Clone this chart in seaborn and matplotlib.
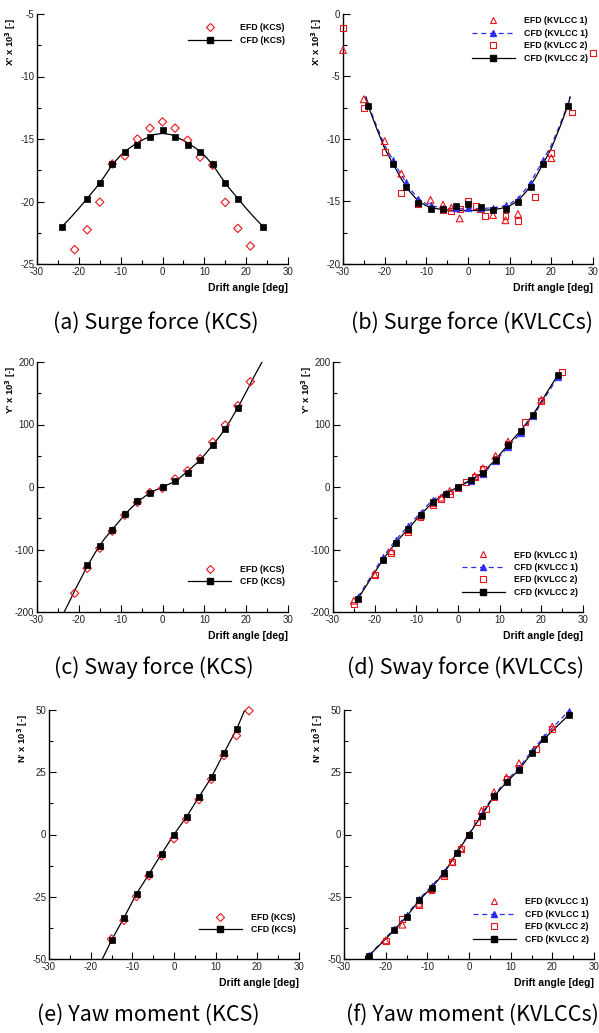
import matplotlib
matplotlib.use("Agg")
import matplotlib.pyplot as plt
import seaborn as sns
from matplotlib.lines import Line2D
from matplotlib.ticker import MultipleLocator

# (a) surge force KCS
a_efd_x = [-21, -18, -15, -12, -9, -6, -3, 0, 3, 6, 9, 12, 15, 18, 21]
a_efd_y = [-23.85, -22.26, -20.05, -17.0, -16.35, -15.0, -14.13, -13.63, -14.13, -15.1, -16.45, -17.1, -20.07, -22.15, -23.56]
a_cfd_x = [-24, -18, -15, -12, -9, -6, -3, 0, 3, 6, 9, 12, 15, 18, 24]
a_cfd_y = [-22.0, -19.78, -18.55, -16.98, -16.03, -15.47, -14.8, -14.27, -14.8, -15.47, -16.03, -16.98, -18.55, -19.78, -22.0]
a_fit_x = [-24, -22, -20, -18, -16, -14, -12, -10, -8, -6, -4, -2, 0, 2, 4, 6, 8, 10, 12, 14, 16, 18, 20, 22, 24]
a_fit_y = [-22.0, -21.3, -20.55, -19.75, -18.95, -18.05, -17.05, -16.3, -15.75, -15.3, -14.95, -14.65, -14.55,
           -14.65, -14.95, -15.3, -15.75, -16.3, -17.05, -18.05, -18.95, -19.75, -20.55, -21.3, -22.0]

# (b) surge force KVLCCs
b_efd1_x = [-30, -25, -20, -16, -9, -6, -4, -2, 3, 6, 9, 12, 20]
b_efd1_y = [-2.88, -6.82, -10.17, -12.78, -14.86, -15.26, -15.5, -16.35, -15.6, -16.08, -16.5, -16.0, -11.53]
b_efd2_x = [-30, -25, -20, -16, -12, -6, -4, -2, 0, 2, 4, 9, 12, 16, 20, 25, 30]
b_efd2_y = [-1.15, -7.53, -11.05, -14.32, -15.2, -15.7, -15.75, -15.6, -14.95, -15.33, -16.13, -16.19, -16.59,
            -14.64, -11.13, -7.88, -3.09]
b_cfd_x = [-24, -18, -15, -12, -9, -6, -3, 0, 3, 6, 9, 12, 15, 18, 24]
b_cfd1_y = [-7.25, -11.66, -13.47, -14.8, -15.3, -15.5, -15.55, -15.5, -15.55, -15.5, -15.3, -14.8, -13.5, -11.7, -7.25]
b_cfd2_y = [-7.4, -11.98, -13.87, -15.1, -15.6, -15.6, -15.39, -15.23, -15.44, -15.65, -15.6, -15.07, -13.85, -11.98, -7.4]
b_fit_x = [-24.5, -24, -22, -20, -18, -16, -14, -12, -10, -8, -6, -4, -2, 0, 2, 4, 6, 8, 10, 12, 14, 16, 18, 20, 22, 24, 24.5]
b_fit1_y = [-6.6, -7.2, -8.9, -10.5, -11.7, -12.9, -13.95, -14.75, -15.2, -15.4, -15.5, -15.55, -15.58, -15.58,
            -15.58, -15.55, -15.5, -15.4, -15.2, -14.75, -13.95, -12.9, -11.7, -10.5, -8.9, -7.2, -6.6]
b_fit2_y = [-6.65, -7.3, -9.1, -10.75, -12.0, -13.2, -14.2, -14.95, -15.35, -15.55, -15.65, -15.7, -15.72, -15.72,
            -15.72, -15.7, -15.65, -15.55, -15.35, -14.95, -14.2, -13.2, -12.0, -10.75, -9.1, -7.3, -6.65]

# (c) sway force KCS
c_efd_x = [-21, -18, -15, -12, -9, -6, -3, 0, 3, 6, 9, 12, 15, 18, 21]
c_efd_y = [-170, -130, -98, -70.6, -45, -24.6, -9, -2, 12.8, 26, 45, 71.7, 99, 130, 168.4]
c_cfd_x = [-18, -15, -12, -9, -6, -3, 0, 3, 6, 9, 12, 15, 18]
c_cfd_y = [-124.6, -94, -69, -43.3, -22.5, -9, 0, 10, 23, 43.9, 67.4, 93, 125.7]
c_fit_x = [-23.5, -22, -21, -20, -18, -16, -14, -12, -10, -8, -6, -4, -2, 0, 2, 4, 6, 8, 10, 12, 14, 16, 18, 20, 22, 23.8]
c_fit_y = [-200, -180, -166, -153, -127, -104, -84, -68, -52, -37, -24, -14, -6, 0, 6, 14, 25, 37, 51, 67, 84, 104,
           127, 152, 178, 200]

# (d) sway force KVLCCs
d_efd1_x = [-25, -20, -16, -12, -9, -6, -4, -2, 4, 6, 9, 12, 20]
d_efd1_y = [-182, -139.6, -102.7, -69, -46, -26, -17, -6.4, 17.6, 30, 49.7, 72.7, 139.6]
d_efd2_x = [-25, -20, -16, -12, -9, -6, -4, -2, 0, 2, 4, 6, 9, 12, 16, 20, 25]
d_efd2_y = [-188, -141, -106, -72.7, -47.6, -28.9, -19.3, -11.2, -1, 8.6, 16.6, 28.9, 45.5, 69, 103.7, 138, 183.4]
d_cfd_x = [-24, -18, -15, -12, -9, -6, -3, 0, 3, 6, 9, 12, 15, 18, 24]
d_cfd1_y = [-176, -112, -85, -63, -41, -20, -9, 0, 10, 21, 41, 64, 86, 113, 176]
d_cfd2_y = [-178.6, -116, -89.3, -67.4, -44.4, -24, -10.7, 0, 11.2, 23, 43.9, 67.4, 89.8, 115.5, 179.7]

# (e) yaw moment KCS
e_efd_x = [-15, -12, -9, -6, -3, 0, 3, 6, 9, 12, 15, 18]
e_efd_y = [-42, -34.5, -24.9, -16.6, -8.6, -1.7, 6.1, 14, 22.2, 31.7, 39.7, 49.7]
e_cfd_x = [-15, -12, -9, -6, -3, 0, 3, 6, 9, 12, 15]
e_cfd_y = [-42.5, -33.4, -23.8, -15.9, -7.75, 0, 7.1, 15.1, 23, 32.8, 42.2]
e_fit_x = [-17.2, -15, -12, -9, -6, -3, 0, 3, 6, 9, 12, 15, 17]
e_fit_y = [-50, -42.5, -33.4, -23.8, -15.9, -7.75, 0, 7.1, 15.1, 23, 32.8, 42.2, 50]

# (f) yaw moment KVLCCs
f_efd1_x = [-20, -16, -12, -9, -6, -4, -2, 3, 6, 9, 12, 20]
f_efd1_y = [-42.5, -36.2, -27.8, -21.9, -16, -10.9, -5.5, 9.5, 17, 22.9, 28.6, 43.3]
f_efd2_x = [-20, -16, -12, -9, -6, -4, -2, 0, 2, 4, 6, 9, 12, 16, 20]
f_efd2_y = [-42.8, -34, -28.2, -22.3, -16.5, -11.2, -6.0, -0.3, 4.8, 10.3, 15.1, 22.3, 26.6, 34.2, 42.2]
f_cfd_x = [-24, -18, -15, -12, -9, -6, -3, 0, 3, 6, 9, 12, 15, 18, 24]
f_cfd1_y = [-48.5, -38.0, -32.4, -26.0, -20.8, -15.1, -7.2, 0.3, 8.2, 15.9, 21.5, 26.8, 33.4, 39.3, 49.7]
f_cfd2_y = [-48.7, -38.5, -33, -26.5, -21.3, -15.6, -7.6, 0, 7.6, 15.3, 21, 26, 32.6, 38.4, 48.1]

RED = "#e8141b"
BLUE = "#2a2cf0"
TXT = "Liberation Sans"
plt.rcParams["axes.unicode_minus"] = False

fig = plt.figure(figsize=(5.99, 10.33), dpi=100)
W, H = 599, 1033


def make_ax(l, r, t, b):
    return fig.add_axes([l / W, 1 - b / H, (r - l) / W, (b - t) / H])


def style_ax(ax, ylim, ymaj, ymin, ylabel):
    ax.set_xlim(-30, 30)
    ax.set_ylim(*ylim)
    ax.xaxis.set_major_locator(MultipleLocator(10))
    ax.xaxis.set_minor_locator(MultipleLocator(5))
    ax.yaxis.set_major_locator(MultipleLocator(ymaj))
    ax.yaxis.set_minor_locator(MultipleLocator(ymin))
    sns.despine(ax=ax)
    for s in ["left", "bottom"]:
        ax.spines[s].set_linewidth(1.0)
    ax.tick_params(which="both", direction="in", top=False, right=False, width=0.8)
    ax.tick_params(which="major", length=5, pad=2, labelsize=7, labelcolor="#222222")
    ax.tick_params(which="minor", length=3)
    for lab in ax.get_xticklabels() + ax.get_yticklabels():
        lab.set_family(TXT)
    ax.set_xlabel("Drift angle [deg]", loc="right", fontsize=7.5, fontweight="bold", family=TXT)
    ax.xaxis.set_label_coords(1.0, -0.075)
    ax.set_ylabel(ylabel, loc="top", fontsize=6.8, fontweight="bold", family=TXT)
    ax.yaxis.set_label_coords(-0.075, 0.985)


def efd(ax, x, y, marker, s):
    sns.scatterplot(x=x, y=y, marker=marker, s=s, facecolor="none", edgecolor=RED,
                    linewidth=0.8, clip_on=False, zorder=3, legend=False, ax=ax)


def cfd_pts(ax, x, y, marker, color, s):
    sns.scatterplot(x=x, y=y, marker=marker, s=s, color=color, edgecolor=color,
                    linewidth=0.5, clip_on=False, zorder=4, legend=False, ax=ax)


def curve(ax, x, y, color, ls):
    sns.lineplot(x=x, y=y, color=color, linewidth=0.9, linestyle=ls, sort=False,
                 estimator=None, zorder=2, ax=ax)


LEG = dict(loc="upper left", frameon=False, borderpad=0, borderaxespad=0, handlelength=4.9,
           handletextpad=1.0, labelspacing=0.4, prop={"family": TXT, "weight": "bold", "size": 6.3})


def kcs_legend(ax, x0, y0):
    h = [Line2D([], [], ls="none", marker="D", ms=4.2, mfc="none", mec=RED, mew=0.8),
         Line2D([], [], color="k", lw=0.9, marker="s", ms=4.4, mfc="k", mec="k")]
    ax.legend(h, ["EFD (KCS)", "CFD (KCS)"], bbox_to_anchor=(x0, y0), **LEG)


def kvlcc_legend(ax, x0, y0):
    h = [Line2D([], [], ls="none", marker="^", ms=5.0, mfc="none", mec=RED, mew=0.8),
         Line2D([], [], color=BLUE, lw=0.9, ls=(0, (4, 3)), marker="^", ms=4.6, mfc=BLUE, mec=BLUE),
         Line2D([], [], ls="none", marker="s", ms=4.3, mfc="none", mec=RED, mew=0.8),
         Line2D([], [], color="k", lw=0.9, marker="s", ms=4.4, mfc="k", mec="k")]
    ax.legend(h, ["EFD (KVLCC 1)", "CFD (KVLCC 1)", "EFD (KVLCC 2)", "CFD (KVLCC 2)"],
              bbox_to_anchor=(x0, y0), **LEG)


D_S, SQ_S, TR_S, CF_S, CT_S = 18, 18, 24, 20, 22

# (a)
ax = make_ax(37, 288, 14, 264)
curve(ax, a_fit_x, a_fit_y, "k", "-")
efd(ax, a_efd_x, a_efd_y, "D", D_S)
cfd_pts(ax, a_cfd_x, a_cfd_y, "s", "k", CF_S)
style_ax(ax, (-25, -5), 5, 2.5, "X' x 10$^\\mathbf{3}$ [-]")
kcs_legend(ax, 0.602, 0.962)

# (b)
ax = make_ax(343, 593, 14, 264)
curve(ax, b_fit_x, b_fit1_y, BLUE, (0, (4, 3)))
curve(ax, b_fit_x, b_fit2_y, "k", "-")
efd(ax, b_efd1_x, b_efd1_y, "^", TR_S)
efd(ax, b_efd2_x, b_efd2_y, "s", SQ_S)
cfd_pts(ax, b_cfd_x, b_cfd1_y, "^", BLUE, CT_S)
cfd_pts(ax, b_cfd_x, b_cfd2_y, "s", "k", CF_S)
style_ax(ax, (-20, 0), 5, 2.5, "X' x 10$^\\mathbf{3}$ [-]")
kvlcc_legend(ax, 0.516, 0.99)

# (c)
ax = make_ax(37, 288, 362, 612)
curve(ax, c_fit_x, c_fit_y, "k", "-")
efd(ax, c_efd_x, c_efd_y, "D", D_S)
cfd_pts(ax, c_cfd_x, c_cfd_y, "s", "k", CF_S)
style_ax(ax, (-200, 200), 100, 50, "Y' x 10$^\\mathbf{3}$ [-]")
kcs_legend(ax, 0.602, 0.188)

# (d)
ax = make_ax(333, 583, 362, 612)
curve(ax, d_cfd_x, d_cfd1_y, BLUE, (0, (4, 3)))
curve(ax, d_cfd_x, d_cfd2_y, "k", "-")
efd(ax, d_efd1_x, d_efd1_y, "^", TR_S)
efd(ax, d_efd2_x, d_efd2_y, "s", SQ_S)
cfd_pts(ax, d_cfd_x, d_cfd1_y, "^", BLUE, CT_S)
cfd_pts(ax, d_cfd_x, d_cfd2_y, "s", "k", CF_S)
style_ax(ax, (-200, 200), 100, 50, "Y' x 10$^\\mathbf{3}$ [-]")
kvlcc_legend(ax, 0.516, 0.246)

# (e)
ax = make_ax(49, 299, 710, 959)
curve(ax, e_fit_x, e_fit_y, "k", "-")
efd(ax, e_efd_x, e_efd_y, "D", D_S)
cfd_pts(ax, e_cfd_x, e_cfd_y, "s", "k", CF_S)
style_ax(ax, (-50, 50), 25, 12.5, "N' x 10$^\\mathbf{3}$ [-]")
kcs_legend(ax, 0.6, 0.185)

# (f)
ax = make_ax(344, 594, 710, 959)
curve(ax, f_cfd_x, f_cfd1_y, BLUE, (0, (4, 3)))
curve(ax, f_cfd_x, f_cfd2_y, "k", "-")
efd(ax, f_efd1_x, f_efd1_y, "^", TR_S)
efd(ax, f_efd2_x, f_efd2_y, "s", SQ_S)
cfd_pts(ax, f_cfd_x, f_cfd1_y, "^", BLUE, CT_S)
cfd_pts(ax, f_cfd_x, f_cfd2_y, "s", "k", CF_S)
style_ax(ax, (-50, 50), 25, 12.5, "N' x 10$^\\mathbf{3}$ [-]")
kvlcc_legend(ax, 0.516, 0.248)

# captions
captions = ["(a) Surge force (KCS)", "(b) Surge force (KVLCCs)",
            "(c) Sway force (KCS)", "(d) Sway force (KVLCCs)",
            "(e) Yaw moment (KCS)", "(f) Yaw moment (KVLCCs)"]
cap_x = [156, 472, 154, 466, 148, 472]
cap_y = [323, 323, 668, 668, 1015, 1015]
for t, cx, cy in zip(captions, cap_x, cap_y):
    fig.text(cx / W, 1 - cy / H, t, ha="center", va="center", fontsize=15.5,
             family=["Noto Sans CJK KR", "DejaVu Sans"], fontweight="light")

fig.savefig("out.png", dpi=100)
